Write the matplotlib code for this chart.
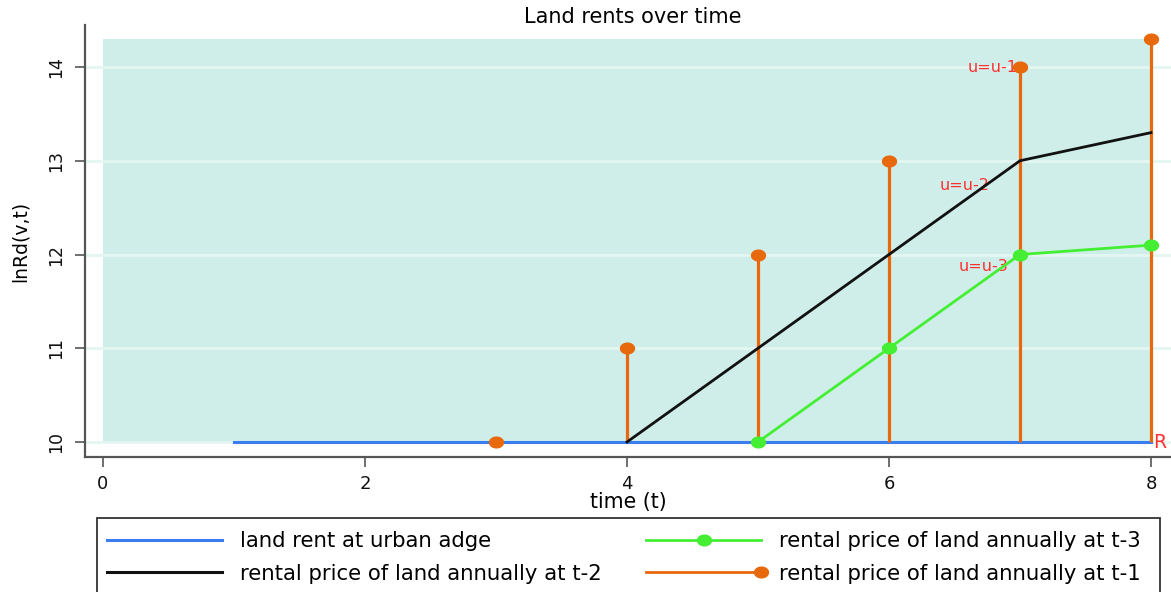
import numpy as np
import matplotlib
matplotlib.use("Agg")
import matplotlib.pyplot as plt
from matplotlib.lines import Line2D
from matplotlib.path import Path
from matplotlib.patches import Rectangle
from matplotlib.legend_handler import HandlerLine2D

# ---- data ----
edge_x = [1, 8]
edge_y = [10, 10]
t2_x = [4, 5, 6, 7, 8]
t2_y = [10, 11, 12, 13, 13.3]
t3_x = [5, 6, 7, 8]
t3_y = [10, 11, 12, 12.1]
t1_x = [3, 4, 5, 6, 7, 8]
t1_y = [10, 11, 12, 13, 14, 14.3]
base = 10
bg_x = [0, 8]
bg_top = 14.3
yticks = [10, 11, 12, 13, 14]
xticks = [0, 2, 4, 6, 8]
annots = [("u=u-1", 6.98, 14.0), ("u=u-2", 6.77, 12.74), ("u=u-3", 6.91, 11.87)]
labels = ["land rent at urban adge", "rental price of land annually at t-2",
          "rental price of land annually at t-3", "rental price of land annually at t-1"]

BLUE = "#3a7df0"
BLACK = "#111111"
GREEN = "#44ee33"
ORANGE = "#e8680c"
FILL = "#d0eee9"
GRID = "#e4f6f2"
RED = "#ff3030"
SPINE = "#555555"

plt.rcParams['font.family'] = ['DejaVu Sans']

# ellipse marker (wider than tall)
th = np.linspace(0, 2 * np.pi, 60)
ell = Path(np.column_stack([1.3 * np.cos(th), np.sin(th)]), closed=True)

W, H = 1171, 592
fig = plt.figure(figsize=(W / 100, H / 100), dpi=100)
ax = fig.add_axes([85 / W, 1 - 457 / H, (1171 - 85) / W, (457 - 25) / H])

x0, x8 = 103, 1151
ppu = (x8 - x0) / 8
ax.set_xlim(-(x0 - 85) / ppu, (1171 - x0) / ppu)
y10, y14 = 442, 67
ppy = (y10 - y14) / 4
ax.set_ylim(10 - (457 - y10) / ppy, 14 + (y14 - 25) / ppy)

ax.fill_between(bg_x, base, bg_top, color=FILL, lw=0, zorder=0)
for yv in yticks:
    ax.axhline(yv, color=GRID, lw=2, zorder=0.5)

ax.plot(edge_x, edge_y, color=BLUE, lw=2.2, zorder=2)
ax.plot(t2_x, t2_y, color=BLACK, lw=2, zorder=4)
ax.plot(t3_x, t3_y, color=GREEN, lw=2, marker=ell, ms=10, zorder=5)
ax.vlines(t1_x, base, t1_y, color=ORANGE, lw=2.3, zorder=3)
ax.plot(t1_x, t1_y, ls='none', color=ORANGE, marker=ell, ms=10, zorder=6)

for txt, xx, yy in annots:
    ax.text(xx, yy, txt, color=RED, fontsize=11.5, ha='right', va='center', zorder=3.5)
ax.text(8.02, 10, "R", color=RED, fontsize=13.5, ha='left', va='center')

for s in ['top', 'right']:
    ax.spines[s].set_visible(False)
for s in ['left', 'bottom']:
    ax.spines[s].set_color(SPINE)
    ax.spines[s].set_linewidth(1.6)
ax.set_xticks(xticks)
ax.set_yticks(yticks)
ax.tick_params(axis='both', colors=SPINE, length=7, width=1.2, labelsize=13, labelcolor='#111111')
ax.tick_params(axis='x', pad=6)
ax.tick_params(axis='y', pad=7, labelsize=12.5)
plt.setp(ax.get_yticklabels(), rotation=90, va='center')
ax.set_xlabel("time (t)", fontsize=14.8)
ax.set_ylabel("lnRd(v,t)", fontsize=13.5)
ax.xaxis.set_label_coords((628 - 85) / (1171 - 85), -(492 - 457) / (457 - 25), transform=ax.transAxes)
ax.yaxis.set_label_coords(-(85 - 30) / (1171 - 85), 0.5)
fig.text(633 / W, 1 - 17 / H, "Land rents over time", fontsize=15, ha='center', va='center')


class RightMarker(HandlerLine2D):
    def create_artists(self, legend, orig_handle, xdescent, ydescent, width, height, fontsize, trans):
        arts = super().create_artists(legend, orig_handle, xdescent, ydescent, width, height, fontsize, trans)
        line = arts[0]
        xd = np.asarray(line.get_xdata(), dtype=float)
        line.set_markevery([len(xd) - 1])
        return arts


h_blue = Line2D([], [], color=BLUE, lw=2.2)
h_black = Line2D([], [], color=BLACK, lw=2.2)
h_green = Line2D([], [], color=GREEN, lw=2, marker=ell, ms=10)
h_orange = Line2D([], [], color=ORANGE, lw=2, marker=ell, ms=10)

# legend frame
fig.patches.append(Rectangle((97 / W, -0.05), (1160 - 97) / W, 0.05 + (592 - 518) / H,
                             transform=fig.transFigure, fill=False, edgecolor='#333333',
                             lw=1.3, clip_on=False))
leg = fig.legend([h_blue, h_black, h_green, h_orange],
                 [labels[0], labels[1], labels[2], labels[3]],
                 ncol=2, loc='upper left',
                 bbox_to_anchor=(107 / W, 1 - 531 / H),
                 fontsize=15.3, frameon=False, borderaxespad=0, borderpad=0,
                 handlelength=5.4, handletextpad=0.85, labelspacing=0.6,
                 columnspacing=2.1, numpoints=1,
                 handler_map={h_orange: RightMarker(numpoints=1)})

fig.savefig("out.png", dpi=100)
